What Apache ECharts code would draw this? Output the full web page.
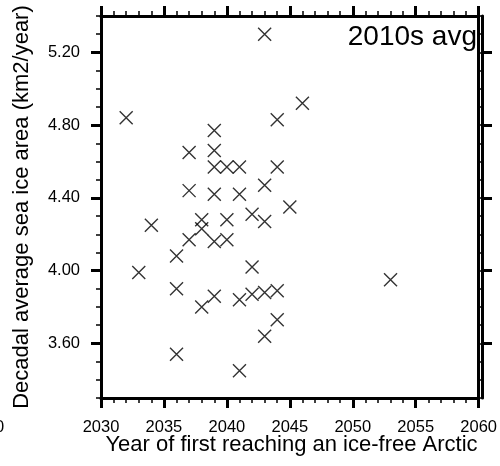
<!DOCTYPE html>
<html>
<head>
<meta charset="utf-8">
<script src="https://cdn.jsdelivr.net/npm/echarts@6/dist/echarts.min.js"></script>
<style>
  html, body { margin: 0; padding: 0; background: #ffffff; }
  #chart { width: 500px; height: 466px; }
</style>
</head>
<body>
<div id="chart"></div>
<script>
// Year each ensemble member first reaches an ice-free Arctic
const iceFreeYear = [
  2032, 2043, 2046, 2044, 2039, 2037, 2039, 2039, 2040, 2041,
  2044, 2043, 2037, 2039, 2041, 2045, 2042, 2043, 2040, 2038,
  2038, 2034, 2037, 2039, 2040, 2036, 2042, 2033, 2053, 2036,
  2042, 2043, 2044, 2039, 2041, 2038, 2044, 2043, 2036, 2041
];
// Decadal (2010s) average sea ice area for the same members
const seaIceArea = [
  4.84, 5.30, 4.92, 4.83, 4.77, 4.65, 4.66, 4.57, 4.57, 4.57,
  4.57, 4.47, 4.44, 4.42, 4.42, 4.35, 4.31, 4.27, 4.28, 4.28,
  4.23, 4.25, 4.17, 4.16, 4.17, 4.08, 4.02, 3.99, 3.95, 3.90,
  3.87, 3.88, 3.89, 3.86, 3.84, 3.80, 3.73, 3.64, 3.54, 3.45
];

const xRange = [2030, 2060];
const xStep = 5;
const yRange = [3.3, 5.4];
const yMinorStep = 0.1;
const yMajorTicks = [3.6, 4.0, 4.4, 4.8, 5.2];

const panelLabel = '2010s avg';
const xTitle = 'Year of first reaching an ice-free Arctic';
const yTitle = 'Decadal average sea ice area (km2/year)';
const neighbourTick = '2060';

const FONT = "'Liberation Sans', Arial, Helvetica, sans-serif";
const INK = '#000000';

const points = iceFreeYear.map((yr, i) => [yr, seaIceArea[i]]);

const PLOT = { left: 101, right: 18, top: 16, bottom: 68, containLabel: false };

const frameLine = { show: true, onZero: false, lineStyle: { color: INK, width: 3 } };
const majorTick = { show: true, inside: false, length: 10, lineStyle: { color: INK, width: 3 } };
const minorTickStyle = { show: true, inside: false, length: 5, lineStyle: { color: INK, width: 1.5 } };

function xAxisDef(gridIndex, position, showLabels) {
  return {
    type: 'value', gridIndex: gridIndex, position: position,
    min: xRange[0], max: xRange[1], interval: xStep,
    axisLine: frameLine,
    axisTick: majorTick,
    minorTick: Object.assign({ splitNumber: 5 }, minorTickStyle),
    splitLine: { show: false },
    axisLabel: {
      show: showLabels, margin: 21, color: INK,
      fontFamily: FONT, fontSize: 16.5,
      formatter: v => String(v)
    }
  };
}

// Grid 0 carries the data plus the minor y ticks every 0.1
function yMinorAxis(position) {
  return {
    type: 'value', gridIndex: 0, position: position,
    min: yRange[0], max: yRange[1], interval: yMinorStep,
    axisLine: frameLine,
    axisTick: minorTickStyle,
    splitLine: { show: false },
    axisLabel: { show: false }
  };
}

// Grid 1 (same rectangle) carries the long y ticks and their labels
function yMajorAxis(position, showLabels) {
  return {
    type: 'value', gridIndex: 1, position: position,
    min: yRange[0], max: yRange[1], interval: yMinorStep,
    axisLine: frameLine,
    axisTick: Object.assign({ customValues: yMajorTicks }, majorTick),
    splitLine: { show: false },
    axisLabel: {
      show: showLabels, customValues: yMajorTicks, margin: 21, color: INK,
      fontFamily: FONT, fontSize: 16.5,
      formatter: v => Number(v).toFixed(2)
    }
  };
}

const chart = echarts.init(document.getElementById('chart'), null, { renderer: 'canvas' });

chart.setOption({
  animation: false,
  backgroundColor: '#ffffff',
  grid: [Object.assign({}, PLOT), Object.assign({}, PLOT)],
  xAxis: [
    xAxisDef(0, 'bottom', true),
    xAxisDef(0, 'top', false),
    { type: 'value', gridIndex: 1, min: xRange[0], max: xRange[1], show: false }
  ],
  yAxis: [
    yMinorAxis('left'), yMinorAxis('right'),
    yMajorAxis('left', true), yMajorAxis('right', false)
  ],
  series: [{
    type: 'scatter',
    xAxisIndex: 0, yAxisIndex: 0,
    data: points,
    symbol: 'path://M0,0L10,10M10,0L0,10',
    symbolSize: 13,
    itemStyle: { color: 'rgba(0,0,0,0)', borderColor: INK, borderWidth: 1.4 },
    emphasis: { disabled: true },
    z: 5
  }],
  graphic: [
    {
      type: 'text', x: 477, y: 37.5, silent: true,
      style: { text: panelLabel, fill: INK, font: '28px ' + FONT, textAlign: 'right', textVerticalAlign: 'middle' }
    },
    {
      type: 'text', x: 291.5, y: 444.5, silent: true,
      style: { text: xTitle, fill: INK, font: '22px ' + FONT, textAlign: 'center', textVerticalAlign: 'middle' }
    },
    {
      type: 'text', x: 21.5, y: 207, rotation: Math.PI / 2, silent: true,
      style: { text: yTitle, fill: INK, font: '22px ' + FONT, textAlign: 'center', textVerticalAlign: 'middle' }
    },
    {
      type: 'text', x: 4.3, y: 427.5, silent: true,
      style: { text: neighbourTick, fill: INK, font: '16.5px ' + FONT, textAlign: 'right', textVerticalAlign: 'middle' }
    }
  ]
});
</script>
</body>
</html>
